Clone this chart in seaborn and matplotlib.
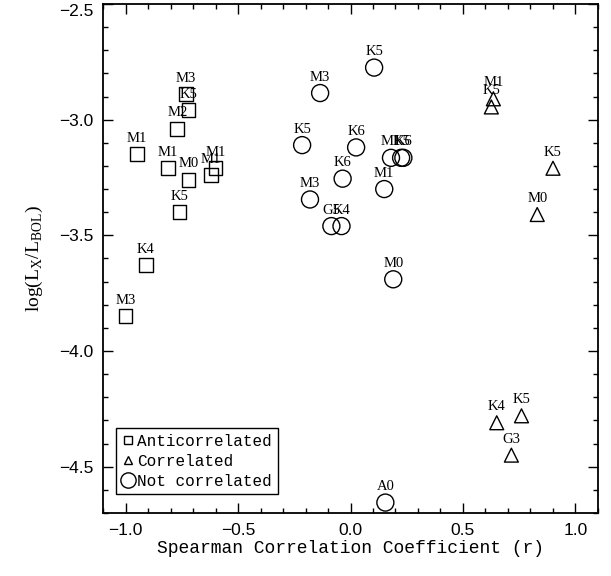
import matplotlib
matplotlib.use('Agg')
import matplotlib.pyplot as plt
import matplotlib.ticker as tkr
from matplotlib.lines import Line2D
import seaborn as sb
import pandas as pd

# Anticorrelated (squares)
anti_r = [-1.00, -0.91, -0.95, -0.77, -0.72, -0.73, -0.81, -0.72, -0.60, -0.62, -0.76]
anti_lx = [-3.85, -3.63, -3.15, -3.04, -2.96, -2.89, -3.21, -3.26, -3.21, -3.24, -3.40]
anti_sp = ['M3', 'K4', 'M1', 'M2', 'K5', 'M3', 'M1', 'M0', 'M1', 'M1', 'K5']

# Correlated (triangles)
corr_r = [0.635, 0.626, 0.90, 0.83, 0.65, 0.76, 0.715]
corr_lx = [-2.91, -2.945, -3.21, -3.41, -4.31, -4.28, -4.45]
corr_sp = ['M1', 'K5', 'K5', 'M0', 'K4', 'K5', 'G3']

# Not correlated (circles)
none_r = [0.105, -0.135, -0.215, 0.025, -0.035, 0.18, 0.225, 0.235,
          0.15, -0.18, -0.085, -0.04, 0.19, 0.155]
none_lx = [-2.775, -2.885, -3.11, -3.12, -3.255, -3.165, -3.165, -3.165,
           -3.30, -3.345, -3.46, -3.46, -3.69, -4.655]
none_sp = ['K5', 'M3', 'K5', 'K6', 'K6', 'M1', 'K5', 'K6',
           'M1', 'M3', 'G5', 'K4', 'M0', 'A0']

groups = [
    (anti_r, anti_lx, anti_sp, 's', 100),
    (corr_r, corr_lx, corr_sp, '^', 100),
    (none_r, none_lx, none_sp, 'o', 150),
]

fig = plt.figure(figsize=(6.11, 5.76), dpi=100)
ax = fig.add_axes([0.1686, 0.1094, 0.8101, 0.8837])

for r, lx, sp, mk, size in groups:
    df = pd.DataFrame({'r': r, 'lx': lx, 'sp': sp})
    sb.scatterplot(data=df, x='r', y='lx', marker=mk, s=size, ax=ax,
                   facecolors='none', edgecolors='black', linewidth=1.0,
                   zorder=3)
    for xi, yi, t in zip(df['r'], df['lx'], df['sp']):
        ax.annotate(t, (xi, yi), xytext=(0, 11.5), textcoords='offset points',
                    ha='center', va='center', fontsize=10.5,
                    family='Liberation Serif', zorder=4)

ax.set_xlim(-1.1, 1.1)
ax.set_ylim(-4.7, -2.5)
ax.xaxis.set_major_locator(tkr.MultipleLocator(0.5))
ax.xaxis.set_minor_locator(tkr.MultipleLocator(0.1))
ax.yaxis.set_major_locator(tkr.MultipleLocator(0.5))
ax.yaxis.set_minor_locator(tkr.MultipleLocator(0.1))
ax.tick_params(which='both', direction='in', top=True, right=True, width=1,
               color='black')
ax.tick_params(which='major', length=7, pad=7, labelsize=12.5)
ax.tick_params(which='minor', length=3.5)
for s in ax.spines.values():
    s.set_linewidth(1.3)
    s.set_color('black')

ax.set_xlabel('Spearman Correlation Coefficient (r)', fontsize=13,
              family='Liberation Mono', labelpad=2)
ax.set_ylabel(r'log(L$_\mathregular{X}$/L$_\mathregular{BOL}$)', fontsize=14,
              family='Liberation Serif', labelpad=10)

handles = [
    Line2D([], [], ls='none', marker='s', ms=6, mfc='none', mec='black', mew=1),
    Line2D([], [], ls='none', marker='^', ms=6, mfc='none', mec='black', mew=1),
    Line2D([], [], ls='none', marker='o', ms=11, mfc='none', mec='black', mew=1),
]
leg = ax.legend(handles, ['Anticorrelated', 'Correlated', 'Not correlated'],
                loc='lower left', bbox_to_anchor=(0.026, 0.037),
                borderaxespad=0, fancybox=False, framealpha=1,
                edgecolor='black', handlelength=0.8, handletextpad=0.2,
                labelspacing=0.3, borderpad=0.35,
                prop={'family': 'Liberation Mono', 'size': 11.5})
leg.get_frame().set_linewidth(1.0)

fig.canvas.draw()
for lab in ax.get_xticklabels() + ax.get_yticklabels():
    lab.set_family('Liberation Sans')
# top y tick label sits just below the frame edge, as in the original
ax.yaxis.get_major_ticks()[-1].label1.set_va('top')
for tk in ax.yaxis.get_major_ticks():
    if abs(tk.get_loc() + 2.5) < 1e-6:
        tk.label1.set_va('top')

fig.savefig('out.png', dpi=100)
